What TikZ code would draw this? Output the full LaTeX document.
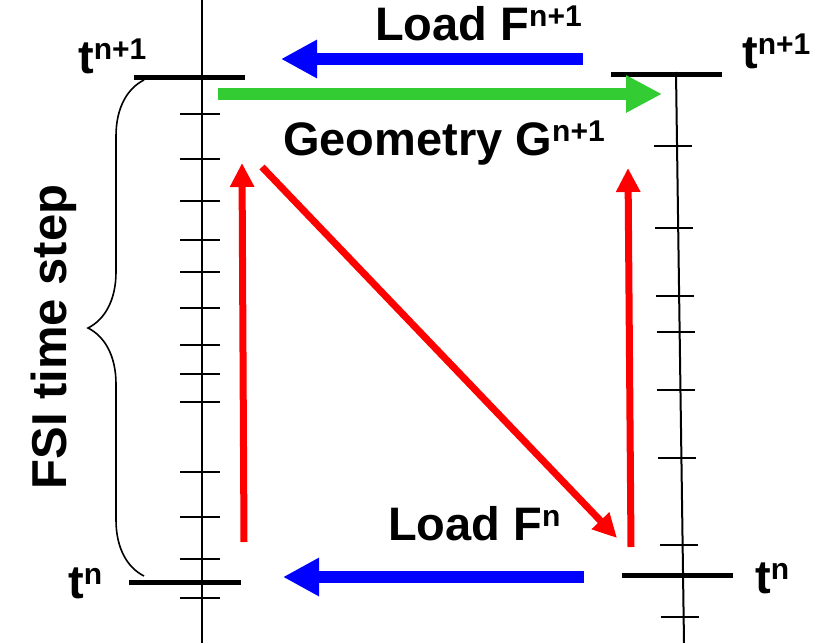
\documentclass[tikz,border=0pt]{standalone}
\usepackage{fontspec}
\setmainfont{Liberation Sans}
\usetikzlibrary{arrows.meta,decorations.pathreplacing}
\definecolor{LoadBlue}{HTML}{0000FF}
\definecolor{GeoGreen}{HTML}{33CC33}
\definecolor{IterRed}{HTML}{FF0000}
\newcommand{\upidx}[1]{\raisebox{14pt}{\fontsize{30}{30}\selectfont #1}}

\begin{document}
\begin{tikzpicture}[
  x=1pt, y=-1pt,
  lbl/.style={anchor=base west, inner sep=0pt, font=\fontsize{47}{54}\selectfont\bfseries},
  axisline/.style={line width=2pt},
  tickline/.style={line width=1.6pt},
  level/.style={line width=5pt},
  loadarr/.style={-{Triangle[length=36pt,width=36pt]}, line width=12pt, color=LoadBlue},
  geoarr/.style={-{Triangle[length=36pt,width=35pt]}, line width=12pt, color=GeoGreen},
  iterarr/.style={-{Triangle[length=24pt,width=23pt]}, line width=7pt, color=IterRed}
]
  \useasboundingbox (0,0) rectangle (836,643);

  % time axes of the two solvers
  \coordinate (la0) at (202,0);   \coordinate (la1) at (202,643);
  \coordinate (ra0) at (676,72);  \coordinate (ra1) at (684,643);
  \draw[axisline] (la0) -- (la1);
  \draw[axisline] (ra0) -- (ra1);
  \foreach \y in {114,159,201,240,272,308,345,374,402,472,517,559,598}
    \draw[tickline] (180,\y) -- (220,\y);
  \foreach \y in {146,228,296,332,390,458,545,617}
    \draw[tickline] ({653+(\y-72)*8/571},\y) -- ++(38,0);

  % coupling levels
  \draw[level] (134,77) -- (245,77);
  \draw[level] (611,74) -- (722,74);
  \draw[level] (129,582) -- (241,582);
  \draw[level] (622,575) -- (733,575);

  \node[lbl] (ltop) at (78,73)  {t\upidx{n+1}};
  \node[lbl] (rtop) at (742,68) {t\upidx{n+1}};
  \node[lbl] (lbot) at (68,598) {t\upidx{n}};
  \node[lbl] (rbot) at (755,593) {t\upidx{n}};
  \node[lbl] (loadnp) at (375,40) {Load F\upidx{n+1}};
  \node[lbl] (geom)   at (283,155) {Geometry G\upidx{n+1}};
  \node[lbl] (loadn)  at (388,540) {Load F\upidx{n}};
  \node[lbl, anchor=base, rotate=90, font=\fontsize{49}{56}\selectfont\bfseries] (fsi) at (66,337) {FSI time step};

  % brace over one FSI step
  \coordinate (bb) at (144,576); \coordinate (bt) at (144,80);
  \draw[line width=1.6pt, decorate, decoration={brace, amplitude=56pt}] (bb) -- (bt);

  % transfers
  \coordinate (lfa) at (583,59);  \coordinate (lfb) at (281,59);
  \coordinate (lna) at (584,577); \coordinate (lnb) at (283,577);
  \coordinate (ga)  at (218,94);  \coordinate (gb)  at (662,94);
  \draw[loadarr] (lfa) -- (lfb);
  \draw[loadarr] (lna) -- (lnb);
  \draw[geoarr] (ga) -- (gb);

  % sub-iterations
  \coordinate (r1a) at (244,542); \coordinate (r1b) at (242,163);
  \coordinate (r2a) at (262,167); \coordinate (r2b) at (617,538);
  \coordinate (r3a) at (631,547); \coordinate (r3b) at (628,168);
  \draw[iterarr] (r1a) -- (r1b);
  \draw[iterarr] (r2a) -- (r2b);
  \draw[iterarr] (r3a) -- (r3b);
\end{tikzpicture}
\end{document}
